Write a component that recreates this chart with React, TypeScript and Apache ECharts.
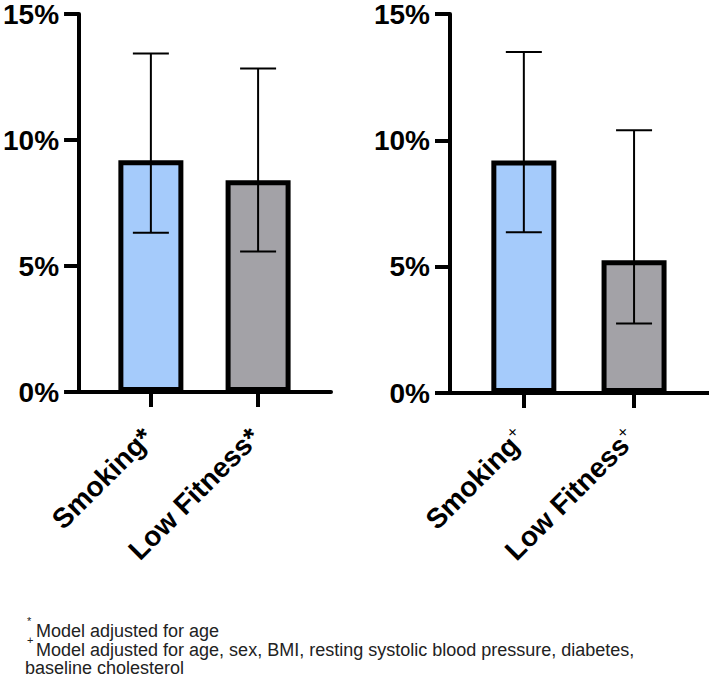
import React, { useEffect, useRef } from "react";
import * as echarts from "echarts";

const categories = ["Smoking", "Low Fitness"];
const leftValues = [9.2, 8.4];
const leftLow = [6.32, 5.58];
const leftHigh = [13.43, 12.84];
const rightValues = [9.2, 5.25];
const rightLow = [6.36, 2.75];
const rightHigh = [13.5, 10.4];
const yTicks = [0, 5, 10, 15];
const barColors = ["#A5CBFB", "#A3A2A7"];
const leftMark = "*";
const rightMark = "+";
const footnotes = [
  { mark: "*", text: "Model adjusted for age" },
  { mark: "+", text: "Model adjusted for age, sex, BMI, resting systolic blood pressure, diabetes," },
  { mark: "", text: "baseline cholesterol" },
];

const FONT = "'Liberation Sans', Arial, Helvetica, sans-serif";

export default function App() {
  const ref = useRef<HTMLDivElement>(null);
  useEffect(() => {
    if (!ref.current) return;
    const chart = echarts.init(ref.current, undefined, { renderer: "svg" });
    const idx = categories.map((_, i) => i);

    const mkX = (gridIndex: number, rich: boolean) => ({
      type: "value",
      gridIndex,
      min: -0.67,
      max: 1.68,
      axisLine: { show: true, onZero: false, lineStyle: { color: "#000", width: 4 } },
      axisTick: { show: true, length: 15, customValues: idx, lineStyle: { color: "#000", width: 4 } },
      splitLine: { show: false },
      axisLabel: {
        show: true,
        customValues: idx,
        rotate: 45,
        margin: 38,
        fontSize: 28,
        fontWeight: "bold",
        fontFamily: FONT,
        color: "#000",
        padding: [0, 4, 0, 0],
        formatter: (v: number) => {
          const name = categories[Math.round(v)] ?? "";
          return rich ? name + "{sup|" + rightMark + "}" : name + leftMark;
        },
        rich: rich
          ? {
              sup: { fontSize: 17, fontWeight: "normal", fontFamily: FONT, color: "#000", verticalAlign: "top", padding: [0, 0, 14, 0] },
            }
          : undefined,
      },
    });
    const mkY = (gridIndex: number) => ({
      type: "value",
      gridIndex,
      min: yTicks[0],
      max: yTicks[yTicks.length - 1],
      interval: 5,
      axisLine: { show: true, onZero: false, lineStyle: { color: "#000", width: 4 } },
      axisTick: { show: true, length: 15, lineStyle: { color: "#000", width: 4 } },
      splitLine: { show: false },
      axisLabel: {
        margin: 20,
        fontSize: 28,
        fontWeight: "bold",
        fontFamily: FONT,
        color: "#000",
        formatter: "{value}%",
      },
    });

    const barSeries = (axisIndex: number, vals: number[]) => ({
      type: "bar",
      xAxisIndex: axisIndex,
      yAxisIndex: axisIndex,
      barWidth: 65,
      z: 2,
      data: vals.map((v, i) => ({
        value: [i, v],
        itemStyle: { color: barColors[i], borderColor: "#000", borderWidth: 5 },
      })),
    });
    const errSeries = (axisIndex: number, lo: number[], hi: number[]) => ({
      type: "custom",
      xAxisIndex: axisIndex,
      yAxisIndex: axisIndex,
      z: 5,
      data: lo.map((l, i) => [i, l, hi[i]]),
      renderItem: (params: any, api: any) => {
        const pLo = api.coord([api.value(0), api.value(1)]);
        const pHi = api.coord([api.value(0), api.value(2)]);
        const hw = 18;
        const style = { stroke: "#000", lineWidth: 2 };
        return {
          type: "group",
          children: [
            { type: "line", shape: { x1: pLo[0], y1: pLo[1], x2: pHi[0], y2: pHi[1] }, style },
            { type: "line", shape: { x1: pLo[0] - hw, y1: pLo[1], x2: pLo[0] + hw, y2: pLo[1] }, style },
            { type: "line", shape: { x1: pHi[0] - hw, y1: pHi[1], x2: pHi[0] + hw, y2: pHi[1] }, style },
          ],
        };
      },
    });

    const graphics: any[] = [];
    const baselines = [636, 655, 673];
    footnotes.forEach((f, i) => {
      if (f.mark) {
        graphics.push({
          type: "text",
          x: 27,
          y: baselines[i] - 15,
          style: { text: f.mark, fontSize: 11, fontFamily: FONT, fill: "#222", verticalAlign: "middle" },
        });
      }
      graphics.push({
        type: "text",
        x: f.mark ? 36 : 25,
        y: baselines[i] - 5,
        style: { text: f.text, fontSize: 18, fontFamily: FONT, fill: "#222", verticalAlign: "middle" },
      });
    });

    chart.setOption({
      animation: false,
      grid: [
        { left: 75, top: 10, width: 256, height: 382 },
        { left: 450, top: 11, width: 259, height: 382 },
      ],
      xAxis: [mkX(0, false), mkX(1, true)],
      yAxis: [mkY(0), mkY(1)],
      series: [
        barSeries(0, leftValues),
        errSeries(0, leftLow, leftHigh),
        barSeries(1, rightValues),
        errSeries(1, rightLow, rightHigh),
      ],
      graphic: graphics,
    });
    return () => chart.dispose();
  }, []);
  return (
    <div
      ref={ref}
      style={{ position: "fixed", left: 0, top: 0, width: 709, height: 683, background: "#fff" }}
    />
  );
}
